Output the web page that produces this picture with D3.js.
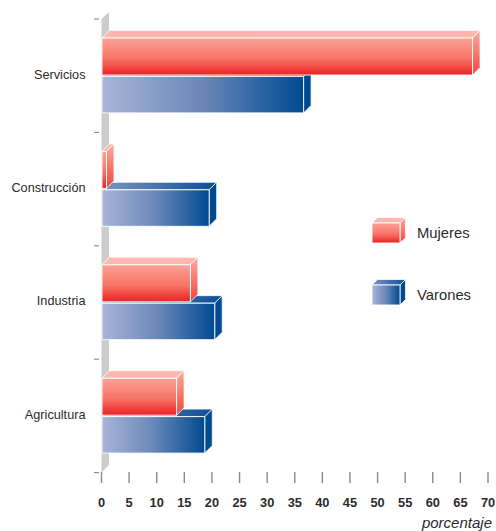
<!DOCTYPE html>
<html><head><meta charset="utf-8">
<script src="https://cdn.jsdelivr.net/npm/d3@7/dist/d3.min.js"></script>
<style>html,body{margin:0;padding:0;background:#fff}svg{display:block}text{font-family:"Liberation Sans",Arial,sans-serif}</style>
</head><body><svg id="c" width="496" height="531"></svg>
<script>
const categories = ["Servicios","Construcción","Industria","Agricultura"];
const mujeres = [67.2, 0.9, 16.1, 13.6];
const varones = [36.6, 19.5, 20.5, 18.7];
const xTicks = d3.range(0, 75, 5);
const seriesNames = ["Mujeres","Varones"];

const svg = d3.select("#c");
const x = d3.scaleLinear().domain([0,70]).range([101.5,488]);
const y = d3.scaleBand().domain(categories).range([19,472.6]);
const barDx = 7.5, barDy = 7.5;
const barH = 37;
const defs = svg.append("defs");
function grad(id, stops, horiz){
  const g = defs.append("linearGradient").attr("id",id)
    .attr("x1",0).attr("y1",0).attr("x2",horiz?1:0).attr("y2",horiz?0:1);
  stops.forEach(s=>g.append("stop").attr("offset",s[0]).attr("stop-color",s[1]));
}
grad("redFront",[[0,"#fba297"],[0.55,"#f77566"],[1,"#ee2024"]],false);
grad("redSide",[[0,"#fcaca2"],[1,"#f1453c"]],false);
grad("blueFront",[[0,"#a9b5d8"],[0.5,"#6a87b8"],[1,"#004a91"]],true);
grad("blueTop",[[0,"#7d95c3"],[1,"#0a4f94"]],true);
const styles = {
  Mujeres:{front:"url(#redFront)",top:"#fdb7ae",side:"url(#redSide)"},
  Varones:{front:"url(#blueFront)",top:"url(#blueTop)",side:"#004a91"}
};
// back wall
const x0 = x(0);
svg.append("path")
  .attr("d",`M${x0},${y.range()[0]}L${x0+barDx},${y.range()[0]-7}V${y.range()[1]-barDy}L${x0},${y.range()[1]}Z`)
  .attr("fill","#cccccc");

function box(g,xl,xr,yt,h,st,dx,dy){
  g.append("path").attr("d",`M${xl},${yt}L${xl+dx},${yt-dy}H${xr+dx}L${xr},${yt}Z`)
    .attr("fill",st.top).attr("stroke","#fff").attr("stroke-opacity",.75);
  g.append("path").attr("d",`M${xr},${yt}L${xr+dx},${yt-dy}V${yt+h-dy}L${xr},${yt+h}Z`)
    .attr("fill",st.side).attr("stroke","#fff").attr("stroke-opacity",.75);
  g.append("rect").attr("x",xl).attr("y",yt).attr("width",xr-xl).attr("height",h)
    .attr("fill",st.front).attr("stroke","#fff").attr("stroke-opacity",.9);
}
const barsG = svg.append("g");
categories.forEach((c,i)=>{
  box(barsG,x(0)+.5,x(varones[i]),y(c)+57.4,barH-.5,styles.Varones,barDx,barDy);
  box(barsG,x(0)+.5,x(mujeres[i]),y(c)+19,barH,styles.Mujeres,barDx,barDy);
});

// y axis ticks
const bandEdges = categories.map(c=>y(c)).concat(y.range()[1]);
svg.append("g").selectAll("line").data(bandEdges).join("line")
  .attr("x1",94).attr("x2",99).attr("y1",d=>d).attr("y2",d=>d)
  .attr("stroke","#8f8f8f").attr("stroke-width",1.2);
svg.append("g").selectAll("text").data(categories).join("text")
  .attr("x",85.5).attr("y",c=>y(c)+y.bandwidth()/2+2.8).attr("text-anchor","end")
  .attr("font-size",12.7).attr("fill","#2b2b2b").text(d=>d);

// x axis
const xg = svg.append("g");
xg.selectAll("line").data(xTicks).join("line")
  .attr("x1",d=>x(d)).attr("x2",d=>x(d)).attr("y1",472).attr("y2",483)
  .attr("stroke","#8a8a8e").attr("stroke-width",1.4);
xg.selectAll("text").data(xTicks).join("text")
  .attr("x",d=>x(d)).attr("y",506.5).attr("text-anchor","middle")
  .attr("font-size",12.8).attr("font-weight","bold").attr("fill","#2b2b2b").text(d=>d);
svg.append("text").attr("x",492).attr("y",527.5).attr("text-anchor","end")
  .attr("font-size",15).attr("font-style","italic").attr("fill","#2b2b2b").text("porcentaje");

// legend
const legY = d3.scalePoint().domain(seriesNames).range([223,285]);
seriesNames.forEach(n=>{
  const g = svg.append("g");
  box(g,372,400,legY(n),20,styles[n],5.5,5.5);
  g.append("text").attr("x",417).attr("y",legY(n)+15).attr("font-size",14.8).attr("fill","#2b2b2b").text(n);
});
</script></body></html>
